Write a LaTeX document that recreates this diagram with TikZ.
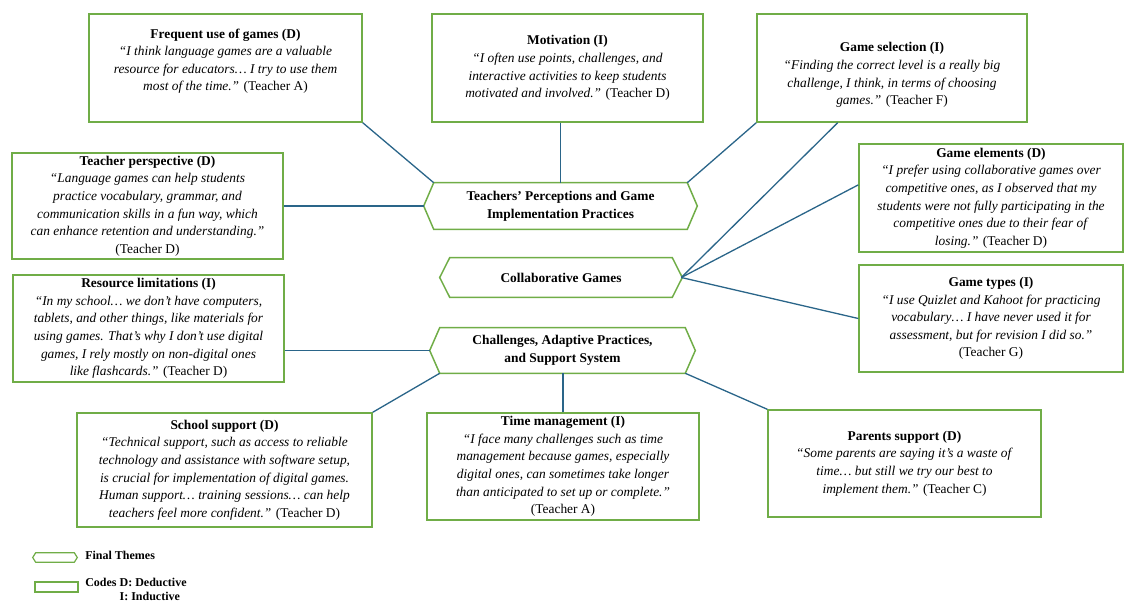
\documentclass[tikz,border=0pt]{standalone}
\usepackage{fontspec}
\setmainfont{Liberation Serif}
\usepackage{xcolor}
\usepackage{tikz}
\usetikzlibrary{calc}
\usetikzlibrary{positioning}

\definecolor{codegreen}{HTML}{70AD47}
\definecolor{linkblue}{HTML}{2A6589}

\begin{document}
\begin{tikzpicture}[x=1pt,y=-1pt,semithick]
	\tikzstyle{code}=[draw=codegreen, line width=1.4pt, rectangle, align=center, inner sep=0pt,
		font=\fontsize{13.4}{17.6}\selectfont]
	\tikzstyle{theme}=[rectangle, align=center, inner sep=0pt, font=\fontsize{13.4}{17.6}\selectfont\bfseries,
		append after command={\pgfextra{\let\thm\tikzlastnode
			\draw[codegreen, line width=1.5pt]
			(\thm.north west) -- ($(\thm.west)+(-10,0)$) -- (\thm.south west)
			-- (\thm.south east) -- ($(\thm.east)+(10,0)$) -- (\thm.north east) -- cycle;}}]
	\tikzstyle{link}=[draw=linkblue, line width=1.3pt]
	\tikzstyle{legend}=[font=\fontsize{12}{14}\selectfont\bfseries, inner sep=0pt, align=left]
	\useasboundingbox (0,0) rectangle (1125,604);

	% codes
	\node[code, minimum width=273, minimum height=108] (fq) at (225.5,68)
		{\textbf{Frequent use of games (D)}\\
		 \textit{“I think language games are a valuable}\\
		 \textit{resource for educators… I try to use them}\\
		 \textit{most of the time.”} (Teacher A)\\[-1pt]\mbox{}};
	\node[code, minimum width=271, minimum height=108] (mo) at (567.5,68)
		{\textbf{Motivation (I)}\\
		 \textit{“I often use points, challenges, and}\\
		 \textit{interactive activities to keep students}\\
		 \textit{motivated and involved.”} (Teacher D)};
	\node[code, minimum width=270, minimum height=108] (gs) at (892,68)
		{\mbox{}\\[6pt]\textbf{Game selection (I)}\\
		 \textit{“Finding the correct level is a really big}\\
		 \textit{challenge, I think, in terms of choosing}\\
		 \textit{games.”} (Teacher F)};
	\node[code, minimum width=271, minimum height=106] (tp) at (147.5,206)
		{\textbf{Teacher perspective (D)}\\
		 \textit{“Language games can help students}\\
		 \textit{practice vocabulary, grammar, and}\\
		 \textit{communication skills in a fun way, which}\\
		 \textit{can enhance retention and understanding.”}\\
		 (Teacher D)};
	\node[code, minimum width=271, minimum height=107] (rl) at (148.5,328.5)
		{\textbf{Resource limitations (I)}\\
		 \textit{“In my school… we don’t have computers,}\\
		 \textit{tablets, and other things, like materials for}\\
		 \textit{using games. That’s why I don’t use digital}\\
		 \textit{games, I rely mostly on non-digital ones}\\
		 \textit{like flashcards.”} (Teacher D)};
	\node[code, minimum width=264, minimum height=108] (ge) at (991,198)
		{\textbf{Game elements (D)}\\
		 \textit{“I prefer using collaborative games over}\\
		 \textit{competitive ones, as I observed that my}\\
		 \textit{students were not fully participating in the}\\
		 \textit{competitive ones due to their fear of}\\
		 \textit{losing.”} (Teacher D)};
	\node[code, minimum width=264, minimum height=107] (gt) at (991,318.5)
		{\textbf{Game types (I)}\\
		 \textit{“I use Quizlet and Kahoot for practicing}\\
		 \textit{vocabulary… I have never used it for}\\
		 \textit{assessment, but for revision I did so.”}\\
		 (Teacher G)};
	\node[code, minimum width=295, minimum height=114] (ss) at (224.5,470)
		{\textbf{School support (D)}\\
		 \textit{“Technical support, such as access to reliable}\\
		 \textit{technology and assistance with software setup,}\\
		 \textit{is crucial for implementation of digital games.}\\
		 \textit{Human support… training sessions… can help}\\
		 \textit{teachers feel more confident.”} (Teacher D)};
	\node[code, minimum width=272, minimum height=107] (tm) at (563,466.5)
		{\textbf{Time management (I)}\\
		 \textit{“I face many challenges such as time}\\
		 \textit{management because games, especially}\\
		 \textit{digital ones, can sometimes take longer}\\
		 \textit{than anticipated to set up or complete.”}\\
		 (Teacher A)};
	\node[code, minimum width=273, minimum height=107] (ps) at (904.5,463.5)
		{\textbf{Parents support (D)}\\
		 \textit{“Some parents are saying it’s a waste of}\\
		 \textit{time… but still we try our best to}\\
		 \textit{implement them.”} (Teacher C)};

	% themes
	\node[theme, minimum width=253, minimum height=46] (th1) at (560.5,206)
		{Teachers’ Perceptions and Game\\Implementation Practices};
	\node[theme, minimum width=222, minimum height=39] (th2) at (561,277.5)
		{Collaborative Games};
	\node[theme, minimum width=245, minimum height=45] (th3) at (562.5,350.5)
		{Challenges, Adaptive Practices,\\and Support System};

	% links
	\draw[link] (fq.south east) -- (th1.north west);
	\draw[link] (mo.south -| th1.north) -- (th1.north);
	\draw[link] (gs.south west) -- (th1.north east);
	\draw[link] ($(gs.south west)!0.3!(gs.south east)$) -- ($(th2.east)+(9,0)$);
	\draw[link] (tp.east) -- ($(th1.west)+(-10,0)$);
	\draw[link] ($(ge.north west)!0.38!(ge.south west)$) -- ($(th2.east)+(9,0)$);
	\draw[link] (gt.west) -- ($(th2.east)+(9,0)$);
	\draw[link] (th3.west -| rl.east) -- ($(th3.west)+(-10,0)$);
	\draw[link] (ss.north east) -- (th3.south west);
	\draw[link] (tm.north) -- (tm.north |- th3.south);
	\draw[link] (th3.south east) -- (ps.north west);

	% legend
	\node[minimum width=38, minimum height=9, inner sep=0pt,
		append after command={\pgfextra{\let\key\tikzlastnode
			\draw[codegreen, line width=1.2pt]
			(\key.north west) -- ($(\key.west)+(-3,0)$) -- (\key.south west)
			-- (\key.south east) -- ($(\key.east)+(3,0)$) -- (\key.north east) -- cycle;}}]
		(keytheme) at (55,557.5) {};
	\node[legend, anchor=west] (keythemetxt) at (85,555) {Final Themes};
	\node[draw=codegreen, line width=1.2pt, minimum width=43, minimum height=10, inner sep=0pt]
		(keycode) at (56.5,587) {};
	\node[legend, anchor=north west] (keycodetxt) at (85,578) {Codes D: Deductive\\\phantom{Codes }I: Inductive};
\end{tikzpicture}
\end{document}
